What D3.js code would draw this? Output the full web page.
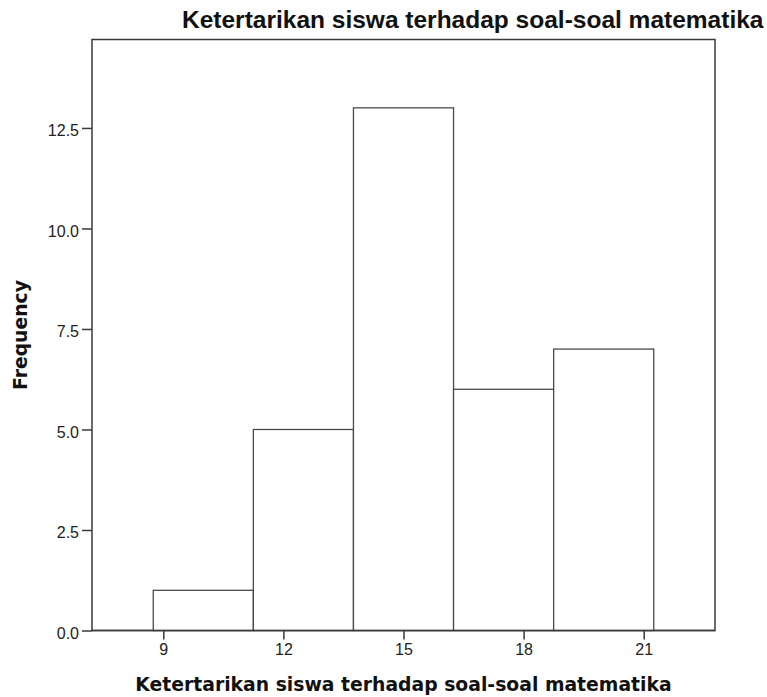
<!DOCTYPE html>
<html>
<head>
<meta charset="utf-8">
<script src="https://cdn.jsdelivr.net/npm/d3@7"></script>
<style>
  html, body { margin: 0; padding: 0; background: #ffffff; }
  svg { display: block; }
</style>
</head>
<body>
<svg id="chart" width="767" height="697"></svg>
<script>
// ---- data ----
const binStarts = [8.75, 11.25, 13.75, 16.25, 18.75];
const binEnds   = [11.25, 13.75, 16.25, 18.75, 21.25];
const frequencies = [1, 5, 13, 6, 7];
const xTickValues = [9, 12, 15, 18, 21];
const yTickValues = [0, 2.5, 5, 7.5, 10, 12.5];
const chartTitle = "Ketertarikan siswa terhadap soal-soal matematika";
const xAxisTitle = "Ketertarikan siswa terhadap soal-soal matematika";
const yAxisTitle = "Frequency";

// ---- layout ----
const svg = d3.select("#chart");
const frame = { left: 92, right: 715, top: 39.5, bottom: 630.5 };

const x = d3.scaleLinear().domain([7.22, 22.78]).range([frame.left, frame.right]);
const y = d3.scaleLinear().domain([0, 14.7]).range([frame.bottom, frame.top]);

const lineColor = "#3a3a3a";
const labelFont = "'Liberation Sans', Arial, sans-serif";
const titleFont = "'DejaVu Sans', Verdana, sans-serif";

// frame
svg.append("rect")
  .attr("x", frame.left).attr("y", frame.top)
  .attr("width", frame.right - frame.left)
  .attr("height", frame.bottom - frame.top)
  .attr("fill", "#ffffff")
  .attr("stroke", lineColor)
  .attr("stroke-width", 1.5);

// bars
const bins = frequencies.map((f, i) => ({ x0: binStarts[i], x1: binEnds[i], n: f }));
svg.append("g").selectAll("rect")
  .data(bins)
  .join("rect")
  .attr("x", d => x(d.x0))
  .attr("y", d => y(d.n))
  .attr("width", d => x(d.x1) - x(d.x0))
  .attr("height", d => y(0) - y(d.n))
  .attr("fill", "#ffffff")
  .attr("stroke", "#4a4a4a")
  .attr("stroke-width", 1.3);

// redraw baseline & left frame over bars
svg.append("line")
  .attr("x1", frame.left).attr("x2", frame.right)
  .attr("y1", frame.bottom).attr("y2", frame.bottom)
  .attr("stroke", lineColor).attr("stroke-width", 1.5);

// axes
const yAxis = d3.axisLeft(y)
  .tickValues(yTickValues)
  .tickFormat(d3.format(".1f"))
  .tickSize(10)
  .tickPadding(3);
const gy = svg.append("g").attr("transform", `translate(${frame.left},0)`).call(yAxis);
gy.select(".domain").remove();
gy.selectAll(".tick line").attr("stroke", lineColor).attr("stroke-width", 1.5);
gy.selectAll(".tick text")
  .attr("fill", "#222")
  .attr("dy", "0.5em")
  .style("font-family", labelFont)
  .style("font-size", "16px");

const xAxis = d3.axisBottom(x)
  .tickValues(xTickValues)
  .tickFormat(d3.format("d"))
  .tickSize(9)
  .tickPadding(4);
const gx = svg.append("g").attr("transform", `translate(0,${frame.bottom})`).call(xAxis);
gx.select(".domain").remove();
gx.selectAll(".tick line").attr("stroke", lineColor).attr("stroke-width", 1.5);
gx.selectAll(".tick text")
  .attr("fill", "#222")
  .style("font-family", labelFont)
  .style("font-size", "16px");

// titles
svg.append("text")
  .attr("x", 182).attr("y", 28)
  .attr("text-anchor", "start")
  .style("font-family", labelFont)
  .style("font-weight", "bold")
  .style("font-size", "24.5px")
  .attr("fill", "#111")
  .text(chartTitle);

svg.append("text")
  .attr("x", (frame.left + frame.right) / 2).attr("y", 691)
  .attr("text-anchor", "middle")
  .style("font-family", titleFont)
  .style("font-weight", "bold")
  .style("font-size", "18.8px")
  .attr("fill", "#111")
  .text(xAxisTitle);

svg.append("text")
  .attr("transform", `translate(27,${(frame.top + frame.bottom) / 2}) rotate(-90)`)
  .attr("text-anchor", "middle")
  .style("font-family", titleFont)
  .style("font-weight", "bold")
  .style("font-size", "18.8px")
  .attr("fill", "#111")
  .text(yAxisTitle);
</script>
</body>
</html>
